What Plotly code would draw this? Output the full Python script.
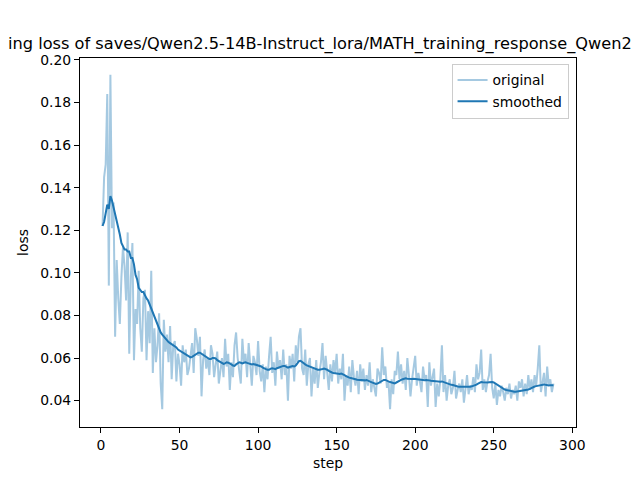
import plotly.graph_objects as go

steps = list(range(1, 289))

original = [
    .122, .145, .151, .184, .094, .193, .121, .133, .070, .106, .088, .076,
    .098, .112, .103, .087, .119, .062, .098, .114, .059, .083, .076, .101,
    .074, .063, .088, .092, .059, .082, .067, .101, .053, .074, .058, .066,
    .081, .048, .036, .078, .063, .071, .058, .075, .050, .066, .068, .049,
    .062, .057, .047, .066, .058, .064, .052, .055, .061, .067, .053, .074,
    .069, .061, .070, .042, .059, .064, .055, .060, .052, .066, .062, .051,
    .057, .063, .048, .055, .060, .051, .069, .056, .062, .045, .058, .051,
    .066, .072, .060, .054, .048, .069, .058, .062, .051, .067, .055, .047,
    .061, .058, .052, .068, .054, .049, .057, .044, .056, .050, .061, .070,
    .053, .058, .047, .063, .055, .059, .050, .064, .052, .057, .040, .061,
    .055, .062, .049, .066, .058, .070, .074, .055, .052, .064, .047, .057,
    .060, .042, .055, .048, .059, .046, .053, .058, .067, .050, .061, .054,
    .045, .057, .049, .059, .053, .062, .048, .055, .050, .062, .040, .052,
    .047, .056, .044, .059, .051, .047, .054, .043, .057, .049, .055, .045,
    .052, .047, .058, .044, .050, .046, .042, .055, .053, .048, .065, .052,
    .056, .046, .049, .036, .050, .043, .054, .052, .063, .050, .057, .048,
    .054, .045, .060, .052, .042, .050, .055, .061, .047, .053, .049, .044,
    .056, .050, .052, .037, .058, .047, .051, .055, .037, .048, .042, .050,
    .066, .044, .052, .040, .047, .050, .043, .046, .054, .041, .045, .048,
    .044, .050, .039, .046, .052, .043, .047, .045, .051, .044, .057, .050,
    .053, .064, .045, .050, .044, .049, .052, .062, .046, .041, .048, .038,
    .045, .042, .047, .044, .040, .046, .043, .048, .041, .045, .043, .047,
    .040, .049, .046, .050, .042, .048, .043, .052, .045, .050, .044, .052,
    .047, .055, .066, .044, .049, .053, .042, .056, .047, .050, .044, .048,
]

smoothed = [
    .122, .124, .128, .132, .130, .136, .134, .131, .127, .124, .122, .118,
    .114, .112, .111, .111, .110, .110, .107, .107, .104, .099, .097, .093,
    .092, .091, .091, .089, .088, .087, .085, .083, .081, .079, .077, .075,
    .074, .072, .071, .070, .069, .068, .0675, .067, .0665, .066, .0655, .065,
    .064, .0635, .063, .0625, .062, .0615, .061, .0605, .0603, .0605, .061, .0615,
    .062, .0625, .0625, .062, .0615, .061, .0605, .060, .0595, .0595, .060, .060,
    .0598, .059, .0585, .058, .0575, .0572, .0575, .058, .0578, .0575, .057, .0565,
    .0563, .057, .0575, .058, .0578, .0575, .0578, .058, .0577, .0575, .057, .057,
    .0572, .057, .0568, .0567, .0565, .056, .0555, .055, .0548, .0545, .0545, .055,
    .0552, .055, .0548, .0552, .0555, .0558, .056, .0563, .0563, .056, .0555, .0558,
    .056, .0562, .056, .0565, .0575, .0585, .0587, .058, .0575, .057, .0565, .0562,
    .056, .0555, .0552, .055, .0548, .0545, .0545, .0545, .0548, .055, .0548, .0545,
    .054, .0535, .0532, .053, .0528, .0527, .0526, .0525, .0527, .0525, .052, .0515,
    .051, .0508, .0506, .0505, .0502, .050, .0498, .0497, .0497, .0498, .0497, .0495,
    .0497, .0495, .049, .0487, .0485, .048, .0478, .048, .0485, .049, .0495, .0497,
    .0497, .0495, .049, .0487, .0485, .0483, .0481, .0485, .049, .0492, .0497, .050,
    .0503, .0505, .0503, .0502, .050, .0502, .0503, .0502, .050, .050, .0498, .0497,
    .0495, .0496, .0497, .0497, .0495, .0493, .0492, .049, .049, .0488, .0488, .0489,
    .049, .0487, .0484, .048, .0477, .0475, .0474, .0473, .047, .0468, .0466, .0465,
    .0465, .0464, .0463, .0463, .0464, .0465, .0465, .0467, .0469, .047, .0475, .048,
    .0485, .0487, .0486, .0485, .0484, .0485, .0486, .0487, .0487, .0485, .048, .0475,
    .047, .0465, .046, .0455, .0452, .045, .0448, .0446, .0444, .0443, .0442, .0442,
    .0443, .0444, .0445, .0446, .0447, .0448, .045, .0452, .0455, .046, .0463, .0466,
    .0468, .047, .0472, .0475, .0477, .0476, .0474, .0472, .0471, .0472, .0473, .0472,
]

x_ticks = [0, 50, 100, 150, 200, 250, 300]
y_ticks = [0.04, 0.06, 0.08, 0.10, 0.12, 0.14, 0.16, 0.18, 0.20]
title_text = "ing loss of saves/Qwen2.5-14B-Instruct_lora/MATH_training_response_Qwen2"

FONT = "DejaVu Sans"
FS = 13.9

fig = go.Figure()
fig.add_trace(go.Scatter(x=steps, y=original, mode="lines", name="original",
                         line=dict(color="rgba(31,119,180,0.4)", width=2)))
fig.add_trace(go.Scatter(x=steps, y=smoothed, mode="lines", name="smoothed",
                         line=dict(color="#1f77b4", width=2)))

axis_common = dict(showline=True, linecolor="black", linewidth=1, mirror=True,
                   ticks="outside", ticklen=5, tickcolor="black", tickwidth=1,
                   showgrid=False, zeroline=False, automargin=False,
                   tickfont=dict(family=FONT, size=FS, color="black"))

fig.update_layout(
    width=640, height=480,
    margin=dict(l=80, r=64, t=58, b=53),
    paper_bgcolor="white", plot_bgcolor="white",
    font=dict(family=FONT, color="black"),
    xaxis=dict(range=[-13.35, 302.35], tickvals=x_ticks,
               title=dict(text="step", font=dict(family=FONT, size=FS), standoff=6),
               **axis_common),
    yaxis=dict(range=[0.0276, 0.2009], tickvals=y_ticks, tickformat=".2f",
               title=dict(text="loss", font=dict(family=FONT, size=FS), standoff=8),
               **axis_common),
    legend=dict(x=0.985, y=0.985, xanchor="right", yanchor="top",
                bgcolor="rgba(255,255,255,0.8)", bordercolor="#cccccc", borderwidth=1,
                font=dict(family=FONT, size=FS)),
    showlegend=True,
    annotations=[dict(text=title_text, xref="paper", yref="paper",
                      x=(320 - 80) / 496, y=1, xanchor="center", yanchor="bottom",
                      yshift=2, showarrow=False,
                      font=dict(family=FONT, size=16.2, color="black"))],
)

fig.write_html("out.html", config={"displayModeBar": False},
               post_script="document.body.style.margin='0';")
